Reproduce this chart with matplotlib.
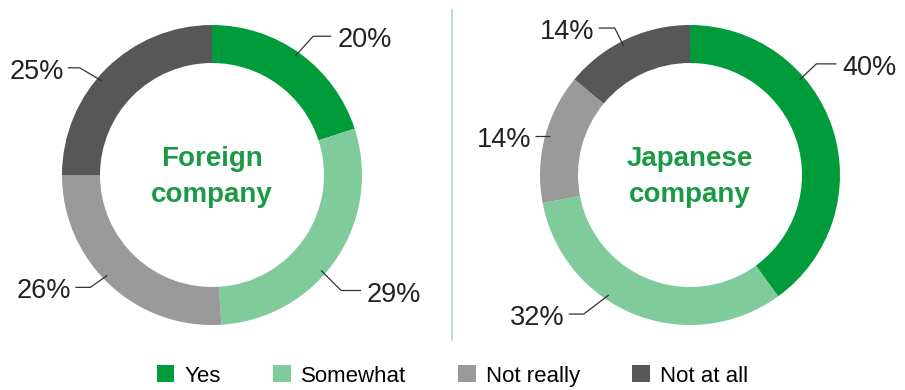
import numpy as np
import matplotlib
matplotlib.use("Agg")
import matplotlib.pyplot as plt
from matplotlib.patches import Patch

plt.rcParams["font.family"] = ["Liberation Sans", "DejaVu Sans"]

# data
categories = ["Yes", "Somewhat", "Not really", "Not at all"]
foreign_pct = [20, 29, 26, 25]
japanese_pct = [40, 32, 14, 14]
titles = ["Foreign\ncompany", "Japanese\ncompany"]

colors = ["#009b3a", "#80cb9c", "#9a9a9a", "#575757"]
title_color = "#1b9a45"
W, H = 905, 390


def py(y):
    # pixel row (top-down) -> data y (bottom-up)
    return H - y


# layout of leader lines per slice: angle offset from slice middle, elbow dx/dy, horizontal run
leaders = [
    [(1, 18, -20, 18), (-7, 20, 20, 20), (-3, -17, 12, -15), (4.5, -22, -13, -12)],
    [(23, 17, -16, 20), (-12.5, -25, 19, -15), (-1, 0, 0, -15), (2, -9, -18, -16)],
]
centers = [(212, 175), (690, 175)]
R, ring = 150, 38

fig = plt.figure(figsize=(W / 100, H / 100), dpi=100)
ax = fig.add_axes([0, 0, 1, 1])

for k, vals in enumerate([foreign_pct, japanese_pct]):
    cx, cy = centers[k]
    ax.pie(vals, colors=colors, startangle=90, counterclock=False,
           center=(cx, py(cy)), radius=R,
           wedgeprops=dict(width=ring, edgecolor="none"))
    ax.text(cx, py(cy + 2), titles[k], ha="center", va="center", fontsize=20,
            fontweight="bold", color=title_color, linespacing=1.45)

    total = float(sum(vals))
    cum = np.cumsum([0] + vals[:-1])
    for i, v in enumerate(vals):
        off, dx, dy, hl = leaders[k][i]
        mid = 90 - 360 * (cum[i] + v / 2) / total + off
        a = np.deg2rad(mid)
        ax0 = cx + 145 * np.cos(a)
        ay0 = cy - 145 * np.sin(a)
        ex, ey = ax0 + dx, ay0 + dy
        fx = ex + hl
        ax.plot([ax0, ex, fx], [py(ay0), py(ey), py(ey)], color="#333333", lw=0.9,
                solid_capstyle="butt")
        if hl > 0:
            ax.text(fx + 6, py(ey + 11), f"{v}%", ha="left", va="baseline",
                    fontsize=19.5, color="#222222")
        else:
            ax.text(fx - 4, py(ey + 11), f"{v}%", ha="right", va="baseline",
                    fontsize=19.5, color="#222222")

# divider
ax.plot([452, 452], [py(10), py(340)], color="#a9dcbb", lw=1.2)

ax.set_xlim(0, W)
ax.set_ylim(0, H)
ax.set_aspect("equal")
ax.axis("off")

handles = [Patch(facecolor=c, edgecolor="none") for c in colors]
fig.legend(handles, categories, loc="center", bbox_to_anchor=(0.5, 1 - 376 / H),
           ncol=4, frameon=False, fontsize=16, handlelength=0.8, handleheight=0.8,
           handletextpad=0.45, columnspacing=2.35, borderaxespad=0)

fig.savefig("out.png", dpi=100)
